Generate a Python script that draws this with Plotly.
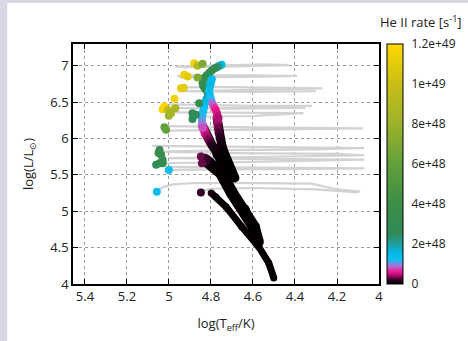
import plotly.graph_objects as go

# ---------------- data ----------------
# Grey evolutionary tracks (logTeff, logL)
g1_T = [4.97, 4.85, 4.70, 4.55, 4.43, 4.55, 4.75, 4.93]
g1_L = [6.99, 7.00, 7.01, 7.02, 7.01, 7.00, 6.99, 6.98]
g2_T = [4.96, 4.80, 4.60, 4.39, 4.55, 4.80, 4.95]
g2_L = [6.86, 6.87, 6.87, 6.86, 6.85, 6.85, 6.84]
g3_T = [4.95, 4.80, 4.55, 4.27, 4.40, 4.60, 4.85, 4.95, 4.60, 4.30]
g3_L = [6.70, 6.71, 6.70, 6.69, 6.68, 6.67, 6.66, 6.65, 6.64, 6.65]
g4_T = [5.00, 4.85, 4.60, 4.32, 4.50, 4.80, 4.98, 4.70, 4.35]
g4_L = [6.47, 6.46, 6.45, 6.45, 6.44, 6.43, 6.42, 6.41, 6.42]
g5_T = [4.97, 4.70, 4.36, 4.60, 4.90]
g5_L = [6.36, 6.36, 6.35, 6.31, 6.30]
g6_T = [5.01, 4.80, 4.50, 4.075, 4.40, 4.80, 5.00]
g6_L = [6.17, 6.16, 6.15, 6.14, 6.13, 6.12, 6.11]
g7_T = [5.08, 4.80, 4.40, 4.07, 4.30, 4.70, 5.05, 4.70, 4.20, 4.07, 4.50, 5.00, 4.60, 4.07, 4.60, 5.05]
g7_L = [5.90, 5.89, 5.88, 5.87, 5.85, 5.84, 5.82, 5.80, 5.79, 5.77, 5.75, 5.73, 5.72, 5.71, 5.68, 5.66]
g8_T = [5.00, 4.60, 4.07, 4.50, 5.00]
g8_L = [5.61, 5.60, 5.59, 5.58, 5.57]
g9_T = [5.055, 5.03, 4.98, 4.90, 4.70, 4.50, 4.32, 4.20, 4.09]
g9_L = [5.29, 5.33, 5.37, 5.385, 5.39, 5.385, 5.38, 5.30, 5.27]
g10_T = [4.84, 4.80, 4.60, 4.30, 4.10]
g10_L = [5.28, 5.31, 5.32, 5.30, 5.26]
grey_tracks = [(g1_T, g1_L), (g2_T, g2_L), (g3_T, g3_L), (g4_T, g4_L), (g5_T, g5_L),
               (g6_T, g6_L), (g7_T, g7_L), (g8_T, g8_L), (g9_T, g9_L), (g10_T, g10_L)]

# Main-sequence bands (logTeff, logL, He II rate)
bandA_T = [4.799, 4.776, 4.728, 4.653, 4.572, 4.525, 4.501]
bandA_L = [5.252, 5.197, 5.060, 4.785, 4.509, 4.289, 4.083]
bandA_R = [1e47, 0, 0, 0, 0, 0, 0]

bandB_T = [4.828, 4.752, 4.700, 4.643, 4.596, 4.577]
bandB_L = [5.707, 5.528, 5.252, 5.018, 4.785, 4.578]
bandB_R = [2e47, 2e46, 0, 0, 0, 0]

bandC1_T = [4.842, 4.837, 4.832, 4.827, 4.820, 4.812, 4.804, 4.795, 4.785, 4.771, 4.742, 4.714, 4.695]
bandC1_L = [6.188, 6.150, 6.110, 6.070, 6.030, 5.990, 5.950, 5.910, 5.870, 5.775, 5.638, 5.541, 5.459]
bandC1_R = [9e47, 7.5e47, 6.5e47, 5.5e47, 4.5e47, 3.5e47, 2.6e47, 1.8e47, 1.1e47, 3e46, 0, 0, 0]

bandC2_T = [4.771, 4.769, 4.766, 4.762, 4.757, 4.750, 4.742, 4.724, 4.705, 4.686]
bandC2_L = [6.284, 6.220, 6.147, 6.080, 6.009, 5.930, 5.844, 5.706, 5.569, 5.459]
bandC2_R = [4.5e47, 4e47, 3.2e47, 2.4e47, 1.6e47, 9e46, 4e46, 0, 0, 0]

# Upper hot strands (markers only)
sl_T = [4.749, 4.760, 4.770, 4.782, 4.795, 4.808, 4.820, 4.830, 4.838, 4.840, 4.836, 4.828, 4.818,
        4.812, 4.815, 4.822, 4.828, 4.832, 4.834, 4.837, 4.840, 4.842, 4.843, 4.843, 4.842, 4.840]
sl_L = [7.014, 7.000, 6.985, 6.965, 6.940, 6.905, 6.870, 6.835, 6.800, 6.760, 6.720, 6.685, 6.650,
        6.615, 6.580, 6.540, 6.500, 6.460, 6.420, 6.380, 6.340, 6.300, 6.260, 6.220, 6.180, 6.150]
sl_R = [1.4e48, 1.8e48, 2.3e48, 2.8e48, 3.0e48, 3.1e48, 3.2e48, 3.2e48, 3.3e48, 3.3e48, 3.2e48, 3.1e48, 2.9e48,
        2.5e48, 2.2e48, 1.9e48, 1.6e48, 1.4e48, 1.3e48, 1.25e48, 1.2e48, 1.15e48, 1.1e48, 1.0e48, 9e47, 8e47]

sr_T = [4.796, 4.800, 4.803, 4.806, 4.809, 4.805, 4.801, 4.796, 4.790, 4.783, 4.777, 4.772, 4.768, 4.764]
sr_L = [6.817, 6.780, 6.740, 6.700, 6.650, 6.600, 6.550, 6.500, 6.460, 6.420, 6.390, 6.350, 6.310, 6.275]
sr_R = [1.5e48, 1.4e48, 1.6e48, 1.5e48, 1.3e48, 1.3e48, 1.2e48, 1.0e48, 8.5e47, 7e47, 6e47, 5.5e47, 5e47, 4.5e47]

# Isolated hot models
dots_T = [4.880, 4.864, 4.840, 4.927, 4.911, 4.864, 4.943, 4.930, 4.974, 5.022, 5.030, 5.006, 4.995,
          4.970, 5.001, 4.990, 4.856, 4.888, 4.872, 4.888, 5.022, 5.014,
          5.045, 5.037, 5.030, 5.045, 5.061, 5.030, 5.050, 5.001, 5.058,
          4.848, 4.848, 4.843]
dots_L = [7.037, 7.000, 7.027, 6.876, 6.853, 6.840, 6.693, 6.700, 6.546, 6.440, 6.404, 6.395, 6.371,
          6.418, 6.312, 6.349, 6.487, 6.349, 6.326, 6.270, 6.156, 6.120,
          5.844, 5.775, 5.706, 5.661, 5.638, 5.661, 5.800, 5.569, 5.270,
          5.257, 5.752, 5.661]
dots_R = [1.15e49, 9e48, 7e48, 1.15e49, 1.1e49, 7e48, 1.1e49, 1.1e49, 1.15e49, 1.2e49, 1.18e49, 1.0e49, 9e48,
          8.5e48, 8e48, 8.5e48, 3e48, 2.5e48, 2.5e48, 2.5e48, 6e48, 6e48,
          3.5e48, 3.5e48, 3.2e48, 3e48, 2.6e48, 3e48, 3.5e48, 1.3e48, 1.3e48,
          2e47, 3e47, 3e47]

cb_vals = [0, 2e48, 4e48, 6e48, 8e48, 1e49, 1.2e49]
cb_text = ["0", "2e+48", "4e+48", "6e+48", "8e+48", "1e+49", "1.2e+49"]
x_ticks = [5.4, 5.2, 5.0, 4.8, 4.6, 4.4, 4.2, 4.0]
x_text = ["5.4", "5.2", "5", "4.8", "4.6", "4.4", "4.2", "4"]
y_ticks = [4, 4.5, 5, 5.5, 6, 6.5, 7]
y_text = ["4", "4.5", "5", "5.5", "6", "6.5", "7"]

colorscale = [
    [0.0, "#000000"], [0.015, "#2a0020"], [0.035, "#a0106a"], [0.05, "#f0148c"],
    [0.075, "#b070d8"], [0.10, "#10c0f0"], [0.13, "#00b8e8"], [0.165, "#20a0a0"],
    [0.21, "#2e8b57"], [0.35, "#3f8f45"], [0.5, "#62a03a"], [0.67, "#9cb22a"],
    [0.83, "#c8be18"], [1.0, "#ffd700"],
]

# ---------------- figure ----------------
fig = go.Figure()
for T, L in grey_tracks:
    fig.add_trace(go.Scatter(x=T, y=L, mode="lines", line=dict(color="#d2d2d2", width=2.2),
                             hoverinfo="skip"))

def band(T, L, R, w):
    fig.add_trace(go.Scatter(x=T, y=L, mode="lines+markers",
                             line=dict(color="#060004", width=w),
                             marker=dict(size=w, color=R, coloraxis="coloraxis", line=dict(width=0))))

band(bandA_T, bandA_L, bandA_R, 7)
band(bandB_T, bandB_L, bandB_R, 12)
band(bandC1_T, bandC1_L, bandC1_R, 9)
band(bandC2_T, bandC2_L, bandC2_R, 9)

for T, L, R in [(sl_T, sl_L, sl_R), (sr_T, sr_L, sr_R), (dots_T, dots_L, dots_R)]:
    fig.add_trace(go.Scatter(x=T, y=L, mode="markers",
                             marker=dict(size=8, color=R, coloraxis="coloraxis", line=dict(width=0))))

axis_common = dict(ticks="inside", ticklen=5, tickcolor="black", showline=True, linecolor="black",
                   linewidth=1.5, mirror="ticks", showgrid=True, gridcolor="#9a9a9a", griddash="dot",
                   gridwidth=1, zeroline=False, tickfont=dict(size=13, color="#222"))

fig.update_layout(
    width=468, height=341,
    margin=dict(l=73, r=88, t=44, b=57),
    paper_bgcolor="#d7d7e5", plot_bgcolor="white",
    font=dict(family="Open Sans", size=13, color="#222"),
    showlegend=False,
    xaxis=dict(range=[5.457, 4.0], tickvals=x_ticks, ticktext=x_text,
               title=dict(text="log(T<sub>eff</sub>/K)", font=dict(size=13)), **axis_common),
    yaxis=dict(range=[4.0, 7.3], tickvals=y_ticks, ticktext=y_text,
               title=dict(text="log(L/L<sub>⊙</sub>)", font=dict(size=13), standoff=14), **axis_common),
    coloraxis=dict(
        colorscale=colorscale, cmin=0, cmax=1.2e49,
        colorbar=dict(
            x=1.0228, xanchor="left", y=0.5, yanchor="middle", len=1, lenmode="fraction",
            thickness=16, xpad=0, ypad=0, outlinewidth=1, outlinecolor="black",
            tickvals=cb_vals, ticktext=cb_text, ticks="outside", ticklen=6,
            tickcolor="rgba(0,0,0,0)", tickfont=dict(size=12, color="#222"),
        ),
    ),
    annotations=[dict(text="He II rate [s<sup>-1</sup>]", xref="paper", yref="paper",
                      x=0.9967, y=1.092, xanchor="left", yanchor="middle", showarrow=False,
                      font=dict(size=13, color="#222"))],
    shapes=[dict(type="rect", xref="paper", yref="paper", x0=-0.215, x1=1.6, y0=-0.5, y1=1.171,
                 fillcolor="white", line=dict(width=0), layer="below")],
)

fig.write_html("out.html")
